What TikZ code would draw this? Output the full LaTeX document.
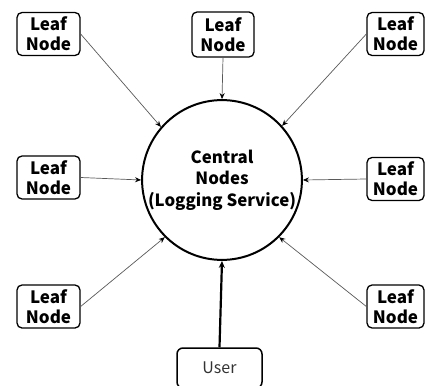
\documentclass[tikz,border=0pt]{standalone}
\usepackage{fontspec}
\setmainfont{Noto Sans CJK JP}
\usetikzlibrary{arrows.meta}
\begin{document}
\begin{tikzpicture}[x=1pt,y=-1pt,
  leaf/.style={draw=black,line width=1.3pt,rounded corners=5pt,inner sep=0pt,
    align=center,font=\fontsize{17}{20}\selectfont\bfseries},
  thin arrow/.style={draw=black!65,line width=0.7pt,-{Stealth[length=6pt,width=5pt,color=black]}},
]
\useasboundingbox (0,0) rectangle (425,385);
\clip (0,0) rectangle (425,385);
\node[draw=black,line width=2pt,circle,minimum size=150pt,inner sep=0pt,align=center,
  font=\fontsize{16.8}{21.5}\selectfont\bfseries] (c) at (222,180) {Central\\Nodes\\(Logging Service)};
\node[leaf,minimum width=63pt,minimum height=43pt] (tl) at (48.5,34) {Leaf\\Node};
\node[leaf,minimum width=62pt,minimum height=45pt] (tm) at (223,34.5) {Leaf\\Node};
\node[leaf,minimum width=57pt,minimum height=43pt] (tr) at (395.5,34) {Leaf\\Node};
\node[leaf,minimum width=63pt,minimum height=43pt] (ml) at (48.5,177.5) {Leaf\\Node};
\node[leaf,minimum width=57pt,minimum height=43pt] (mr) at (395.5,179) {Leaf\\Node};
\node[leaf,minimum width=63pt,minimum height=43pt] (bl) at (48.5,306.5) {Leaf\\Node};
\node[leaf,minimum width=57pt,minimum height=43pt] (br) at (395.5,306.5) {Leaf\\Node};
\node[draw=black,line width=1.5pt,rounded corners=6pt,minimum width=85pt,minimum height=40pt,
  inner sep=0pt,text=black!80,font=\fontsize{16}{18}\selectfont] (u) at (219.5,368) {User};
\draw[thin arrow] (tl.east) -- (c.139);
\draw[thin arrow] (tm.south) -- (c.north);
\draw[thin arrow] (tr.west) -- (c.42);
\draw[thin arrow] (ml.east) -- (c.west);
\draw[thin arrow] (mr.west) -- (c.east);
\draw[thin arrow] (bl.east) -- (c.225);
\draw[thin arrow] (br.west) -- (c.315);
\draw[line width=2.2pt,-{Stealth[length=7pt,width=6pt]}] (u.north) -- (c.south);
\end{tikzpicture}
\end{document}
